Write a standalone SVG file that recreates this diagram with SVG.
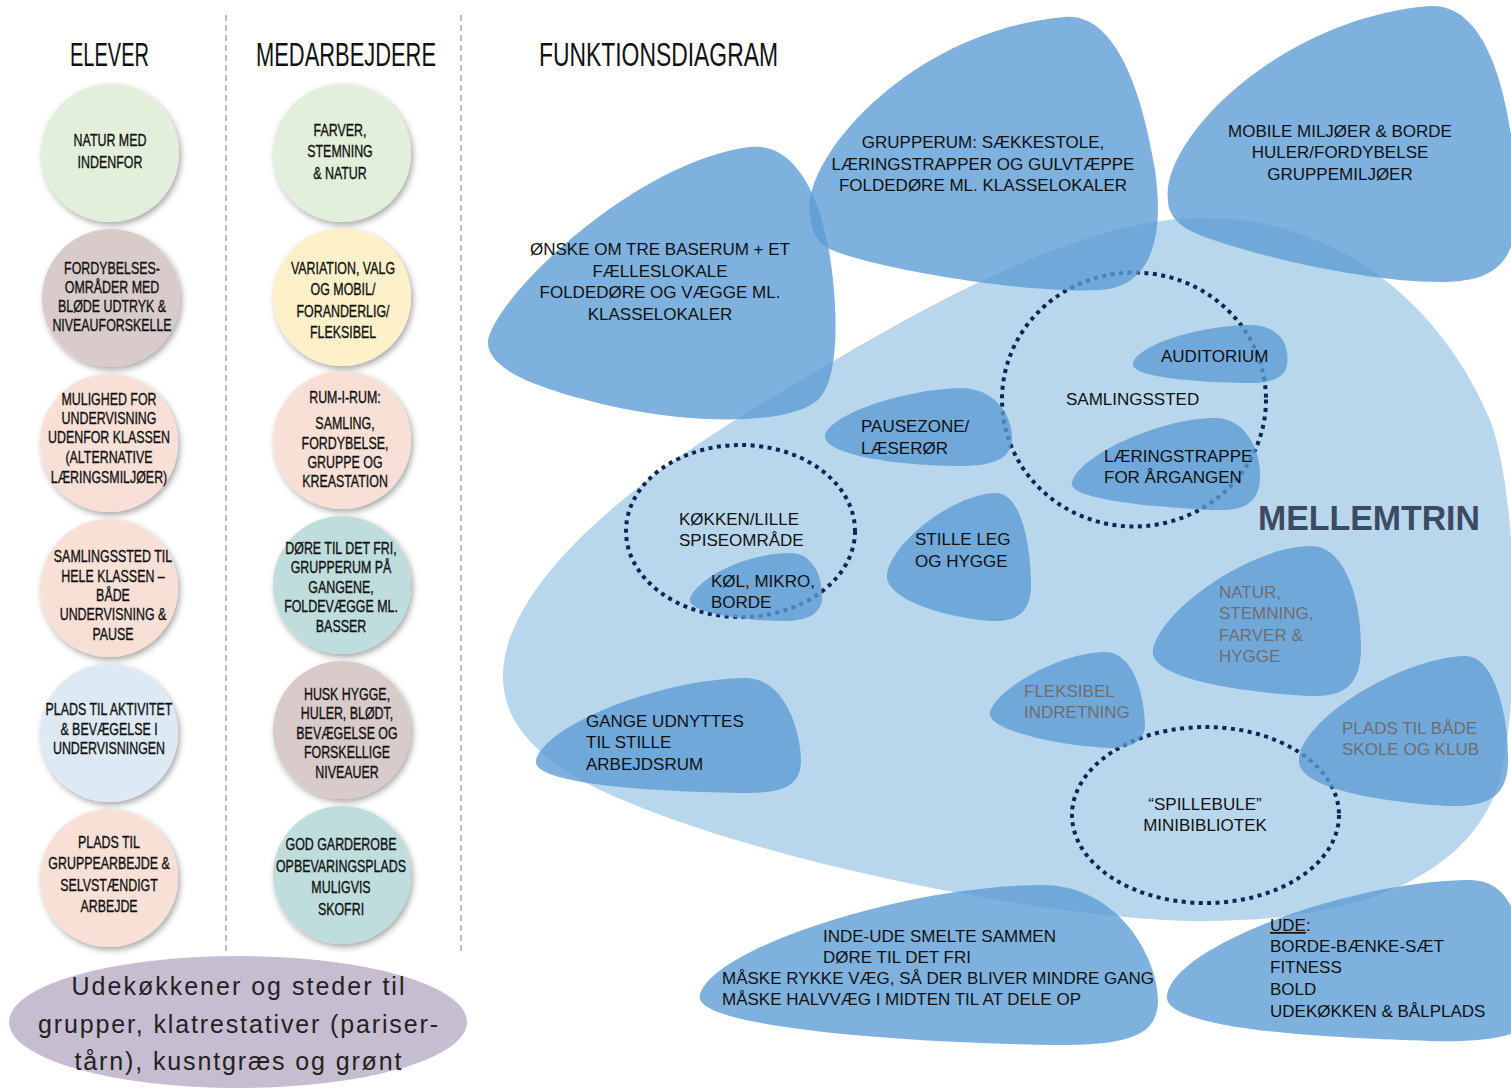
<svg xmlns="http://www.w3.org/2000/svg" width="1511" height="1088" viewBox="0 0 1511 1088">
<defs>
<filter id="sh" x="-20%" y="-20%" width="150%" height="150%">
<feDropShadow dx="2" dy="3" stdDeviation="3" flood-color="#000" flood-opacity="0.35"/>
</filter>
<style>
.hd{font-family:"Liberation Sans",Arial,sans-serif;font-size:33px;fill:#111}
.ct{font-family:"Liberation Sans",Arial,sans-serif;font-size:17px;fill:#111;text-anchor:middle;stroke:#111;stroke-width:0.35}
.tx{font-family:"Liberation Sans",Arial,sans-serif;font-size:17px;fill:#111}
.txc{font-family:"Liberation Sans",Arial,sans-serif;font-size:17px;fill:#111;text-anchor:middle}
.gr{font-family:"Liberation Sans",Arial,sans-serif;font-size:17px;fill:#6e6e6e}
.blob{fill:#5b9bd5;fill-opacity:0.78}
.dot{fill:none;stroke:#0d2658;stroke-width:4;stroke-dasharray:4 4.5}
.div{stroke:#9a9a9a;stroke-width:1.3;stroke-dasharray:6 4}
.cir{filter:url(#sh)}
.el{font-family:"Liberation Sans",Arial,sans-serif;font-size:25px;fill:#222;text-anchor:middle}
</style>
</defs>
<rect width="1511" height="1088" fill="#fff"/>
<line class="div" x1="226" y1="15" x2="226" y2="955"/>
<line class="div" x1="461" y1="15" x2="461" y2="955"/>
<text class="hd" x="70" y="66" textLength="79" lengthAdjust="spacingAndGlyphs">ELEVER</text>
<text class="hd" x="256" y="66" textLength="180" lengthAdjust="spacingAndGlyphs">MEDARBEJDERE</text>
<text class="hd" x="539" y="66" textLength="239" lengthAdjust="spacingAndGlyphs">FUNKTIONSDIAGRAM</text>

<g id="elever-1"><circle class="cir" cx="110" cy="153" r="69" fill="#e2efda"/>
<g transform="translate(110,0) scale(0.73,1)"><text class="ct" x="0" y="146">NATUR MED</text><text class="ct" x="0" y="168">INDENFOR</text></g></g>
<g id="elever-2"><circle class="cir" cx="111" cy="298" r="69" fill="#dacbcb"/>
<g transform="translate(112,0) scale(0.73,1)"><text class="ct" x="0" y="274">FORDYBELSES-</text><text class="ct" x="0" y="293">OMRÅDER MED</text><text class="ct" x="0" y="312">BLØDE UDTRYK &amp;</text><text class="ct" x="0" y="331">NIVEAUFORSKELLE</text></g></g>
<g id="elever-3"><circle class="cir" cx="109" cy="443" r="69" fill="#f8e0d7"/>
<g transform="translate(109,0) scale(0.73,1)"><text class="ct" x="0" y="405">MULIGHED FOR</text><text class="ct" x="0" y="424">UNDERVISNING</text><text class="ct" x="0" y="443">UDENFOR KLASSEN</text><text class="ct" x="0" y="463">(ALTERNATIVE</text><text class="ct" x="0" y="483">LÆRINGSMILJØER)</text></g></g>
<g id="elever-4"><circle class="cir" cx="109" cy="588" r="69" fill="#f8e0d7"/>
<g transform="translate(113,0) scale(0.73,1)"><text class="ct" x="0" y="562">SAMLINGSSTED TIL</text><text class="ct" x="0" y="582">HELE KLASSEN –</text><text class="ct" x="0" y="601">BÅDE</text><text class="ct" x="0" y="620">UNDERVISNING &amp;</text><text class="ct" x="0" y="640">PAUSE</text></g></g>
<g id="elever-5"><circle class="cir" cx="109" cy="733" r="69" fill="#dde9f5"/>
<g transform="translate(109,0) scale(0.73,1)"><text class="ct" x="0" y="715">PLADS TIL AKTIVITET</text><text class="ct" x="0" y="735">&amp; BEVÆGELSE I</text><text class="ct" x="0" y="754">UNDERVISNINGEN</text></g></g>
<g id="elever-6"><circle class="cir" cx="109" cy="878" r="69" fill="#f8e0d7"/>
<g transform="translate(109,0) scale(0.73,1)"><text class="ct" x="0" y="848">PLADS TIL</text><text class="ct" x="0" y="869">GRUPPEARBEJDE &amp;</text><text class="ct" x="0" y="891">SELVSTÆNDIGT</text><text class="ct" x="0" y="912">ARBEJDE</text></g></g>

<g id="medarb-1"><circle class="cir" cx="342" cy="153" r="69" fill="#e2efda"/>
<g transform="translate(340,0) scale(0.73,1)"><text class="ct" x="0" y="136">FARVER,</text><text class="ct" x="0" y="157">STEMNING</text><text class="ct" x="0" y="179">&amp; NATUR</text></g></g>
<g id="medarb-2"><circle class="cir" cx="342" cy="297" r="69" fill="#fef1ca"/>
<g transform="translate(343,0) scale(0.73,1)"><text class="ct" x="0" y="274">VARIATION, VALG</text><text class="ct" x="0" y="295">OG MOBIL/</text><text class="ct" x="0" y="317">FORANDERLIG/</text><text class="ct" x="0" y="338">FLEKSIBEL</text></g></g>
<g id="medarb-3"><circle class="cir" cx="342" cy="440" r="69" fill="#f8e0d7"/>
<g transform="translate(345,0) scale(0.73,1)"><text class="ct" x="0" y="403">RUM-I-RUM:</text><text class="ct" x="0" y="429">SAMLING,</text><text class="ct" x="0" y="449">FORDYBELSE,</text><text class="ct" x="0" y="468">GRUPPE OG</text><text class="ct" x="0" y="487">KREASTATION</text></g></g>
<g id="medarb-4"><circle class="cir" cx="342" cy="585" r="69" fill="#bfdddc"/>
<g transform="translate(341,0) scale(0.73,1)"><text class="ct" x="0" y="554">DØRE TIL DET FRI,</text><text class="ct" x="0" y="573">GRUPPERUM PÅ</text><text class="ct" x="0" y="593">GANGENE,</text><text class="ct" x="0" y="612">FOLDEVÆGGE ML.</text><text class="ct" x="0" y="632">BASSER</text></g></g>
<g id="medarb-5"><circle class="cir" cx="342" cy="730" r="69" fill="#dacbcb"/>
<g transform="translate(347,0) scale(0.73,1)"><text class="ct" x="0" y="700">HUSK HYGGE,</text><text class="ct" x="0" y="719">HULER, BLØDT,</text><text class="ct" x="0" y="739">BEVÆGELSE OG</text><text class="ct" x="0" y="758">FORSKELLIGE</text><text class="ct" x="0" y="778">NIVEAUER</text></g></g>
<g id="medarb-6"><circle class="cir" cx="342" cy="875" r="69" fill="#bfdddc"/>
<g transform="translate(341,0) scale(0.73,1)"><text class="ct" x="0" y="850">GOD GARDEROBE</text><text class="ct" x="0" y="872">OPBEVARINGSPLADS</text><text class="ct" x="0" y="893">MULIGVIS</text><text class="ct" x="0" y="915">SKOFRI</text></g></g>

<g id="ude-ellipse"><ellipse cx="238" cy="1022" rx="229" ry="66" fill="#c6bdd0"/>
<text class="el" x="238" y="995" textLength="333" lengthAdjust="spacing">Udekøkkener og steder til</text>
<text class="el" x="238" y="1033" textLength="400" lengthAdjust="spacing">grupper, klatrestativer (pariser-</text>
<text class="el" x="238" y="1070" textLength="327" lengthAdjust="spacing">tårn), kusntgræs og grønt</text></g>

<g id="mellemtrin">
<path d="M503,680 C500,600 600,500 760,405 C900,320 1060,225 1190,218 C1330,212 1440,300 1490,420 C1520,500 1520,700 1500,780 C1470,880 1350,922 1200,921 C1050,920 750,860 600,790 C530,755 505,720 503,680 Z" fill="#b9d7ec"/>
<text x="1258" y="530" font-family="Liberation Sans, Arial, sans-serif" font-weight="bold" font-size="35" fill="#3d4a63" textLength="222" lengthAdjust="spacingAndGlyphs">MELLEMTRIN</text>
</g>

<g id="dotted-circles">
<ellipse class="dot" cx="1134" cy="399.5" rx="132" ry="127"/>
<ellipse class="dot" cx="740.5" cy="531" rx="114.5" ry="86"/>
<ellipse class="dot" cx="1205.5" cy="815" rx="133.5" ry="88"/>
</g>

<g id="connectors"></g>

<g id="onske"><path class="blob" d="M488,340 C500,290 640,160 750,147 C795,142 818,195 828,245 C838,300 840,370 822,395 C802,425 700,425 620,408 C540,390 485,370 488,340 Z"/>
<text class="txc" x="660" y="255">ØNSKE OM TRE BASERUM + ET</text><text class="txc" x="660" y="277">FÆLLESLOKALE</text><text class="txc" x="660" y="298">FOLDEDØRE OG VÆGGE ML.</text><text class="txc" x="660" y="320">KLASSELOKALER</text></g>

<g id="grupperum"><path class="blob" d="M810,215 C800,160 910,30 1065,17 C1115,13 1142,90 1155,170 C1165,240 1150,287 1100,290 C1030,294 880,270 832,250 C815,242 812,230 810,215 Z"/>
<text class="txc" x="983" y="148">GRUPPERUM: SÆKKESTOLE,</text><text class="txc" x="983" y="170">LÆRINGSTRAPPER OG GULVTÆPPE</text><text class="txc" x="983" y="191">FOLDEDØRE ML. KLASSELOKALER</text></g>

<g id="mobile"><path class="blob" d="M1168,200 C1160,140 1280,18 1430,6 C1482,3 1505,80 1513,150 L1513,240 C1505,272 1480,282 1440,282 C1360,282 1240,252 1195,233 C1175,224 1168,212 1168,200 Z"/>
<text class="txc" x="1340" y="137">MOBILE MILJØER &amp; BORDE</text><text class="txc" x="1340" y="158">HULER/FORDYBELSE</text><text class="txc" x="1340" y="180">GRUPPEMILJØER</text></g>

<g id="pausezone"><path class="blob" d="M825,435 C830,415 900,390 960,388 C995,388 1012,415 1012,438 C1012,458 995,466 960,466 C900,466 822,455 825,435 Z"/>
<text class="tx" x="861" y="432">PAUSEZONE/</text><text class="tx" x="861" y="454">LÆSERØR</text></g>

<g id="kokken"><text class="tx" x="679" y="525">KØKKEN/LILLE</text><text class="tx" x="679" y="546">SPISEOMRÅDE</text></g>

<g id="kol"><path class="blob" d="M690,598 C700,575 750,553 790,553 C815,553 823,580 822,600 C820,615 805,621 785,621 C740,621 685,612 690,598 Z"/>
<text class="tx" x="711" y="587">KØL, MIKRO,</text><text class="tx" x="711" y="608">BORDE</text></g>

<g id="stille"><path class="blob" d="M887,575 C890,545 950,495 995,493 C1020,492 1030,540 1031,580 C1032,610 1020,621 995,621 C950,619 885,600 887,575 Z"/>
<text class="tx" x="915" y="545">STILLE LEG</text><text class="tx" x="915" y="567">OG HYGGE</text></g>

<g id="samlingssted"><text class="tx" x="1066" y="405">SAMLINGSSTED</text></g>

<g id="auditorium"><path class="blob" d="M1133,363 C1138,345 1200,325 1250,325 C1280,325 1290,345 1287,365 C1285,378 1270,384 1245,383 C1200,382 1130,378 1133,363 Z"/>
<text class="tx" x="1161" y="362">AUDITORIUM</text></g>

<g id="laeringstrappe"><path class="blob" d="M1072,482 C1080,455 1160,418 1215,418 C1245,418 1262,450 1260,480 C1258,503 1245,511 1215,510 C1160,508 1065,500 1072,482 Z"/>
<text class="tx" x="1104" y="462">LÆRINGSTRAPPE</text><text class="tx" x="1104" y="483">FOR ÅRGANGEN</text></g>

<g id="natur"><path class="blob" d="M1153,650 C1160,610 1250,547 1310,546 C1345,545 1362,600 1361,650 C1360,685 1345,697 1310,696 C1250,693 1148,680 1153,650 Z"/>
<text class="gr" x="1219" y="598">NATUR,</text><text class="gr" x="1219" y="619">STEMNING,</text><text class="gr" x="1219" y="641">FARVER &amp;</text><text class="gr" x="1219" y="662">HYGGE</text></g>

<g id="fleksibel"><path class="blob" d="M990,712 C995,690 1060,652 1105,652 C1135,652 1145,700 1145,725 C1145,742 1130,748 1110,748 C1060,746 985,730 990,712 Z"/>
<text class="gr" x="1024" y="697">FLEKSIBEL</text><text class="gr" x="1024" y="718">INDRETNING</text></g>

<g id="plads-skole-klub"><path class="blob" d="M1299,760 C1300,720 1400,658 1465,656 C1495,655 1510,720 1508,765 C1506,795 1490,807 1450,806 C1390,803 1297,790 1299,760 Z"/>
<text class="gr" x="1342" y="734">PLADS TIL BÅDE</text><text class="gr" x="1342" y="755">SKOLE OG KLUB</text></g>

<g id="gange"><path class="blob" d="M536,760 C545,725 660,679 745,678 C785,678 800,730 801,760 C801,785 785,793 745,793 C660,792 530,785 536,760 Z"/>
<text class="tx" x="586" y="727">GANGE UDNYTTES</text><text class="tx" x="586" y="748">TIL STILLE</text><text class="tx" x="586" y="770">ARBEJDSRUM</text></g>

<g id="spillebule"><text class="txc" x="1205" y="810">“SPILLEBULE”</text><text class="txc" x="1205" y="831">MINIBIBLIOTEK</text></g>

<g id="inde-ude"><path class="blob" d="M700,995 C710,950 900,886 1040,885 C1120,884 1158,960 1158,1000 C1158,1035 1130,1045 1060,1045 C940,1044 690,1030 700,995 Z"/>
<text class="tx" x="823" y="942">INDE-UDE SMELTE SAMMEN</text><text class="tx" x="823" y="963">DØRE TIL DET FRI</text><text class="tx" x="722" y="984" textLength="432" lengthAdjust="spacingAndGlyphs">MÅSKE RYKKE VÆG, SÅ DER BLIVER MINDRE GANG</text><text class="tx" x="722" y="1005">MÅSKE HALVVÆG I MIDTEN TIL AT DELE OP</text></g>

<g id="ude"><path class="blob" d="M1167,995 C1175,945 1350,882 1465,880 C1500,879 1511,900 1520,930 L1520,1030 C1500,1040 1470,1042 1430,1041 C1330,1038 1160,1030 1167,995 Z"/>
<text class="tx" x="1270" y="931"><tspan text-decoration="underline">UDE</tspan>:</text><text class="tx" x="1270" y="952">BORDE-BÆNKE-SÆT</text><text class="tx" x="1270" y="973">FITNESS</text><text class="tx" x="1270" y="995">BOLD</text><text class="tx" x="1270" y="1017">UDEKØKKEN &amp; BÅLPLADS</text></g>
</svg>
